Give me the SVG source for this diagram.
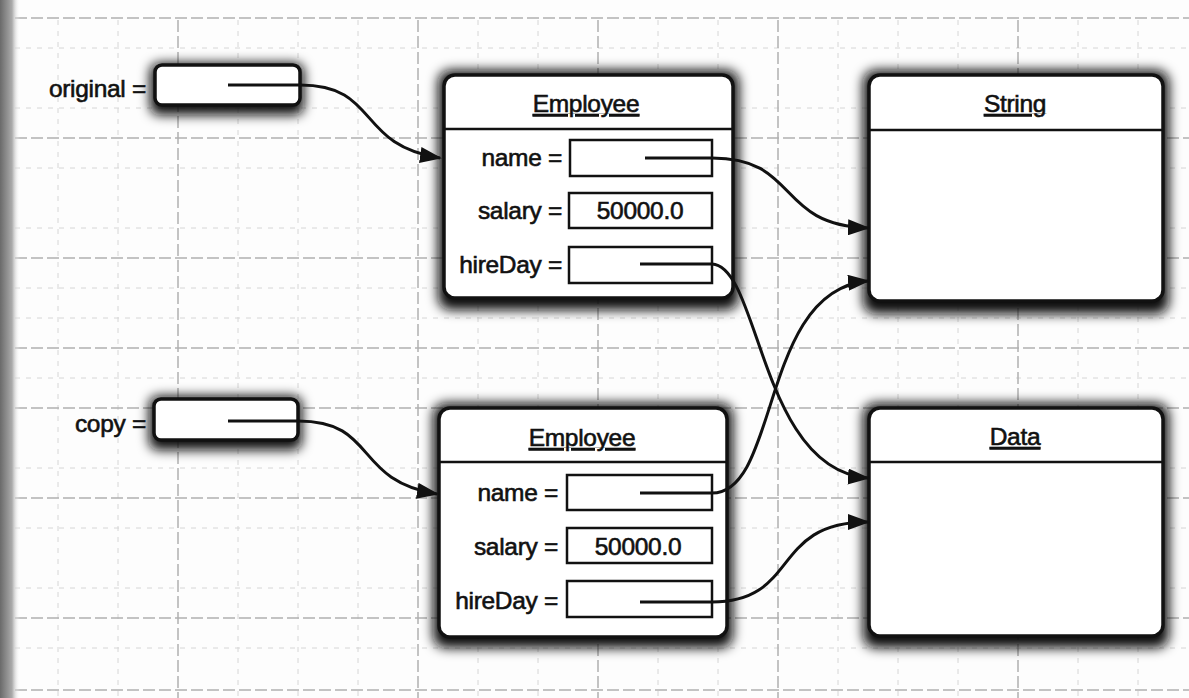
<svg xmlns="http://www.w3.org/2000/svg" width="1189" height="698" viewBox="0 0 1189 698">
<defs>
<style>
text{font-family:"Liberation Sans",Arial,sans-serif;font-size:24.5px;letter-spacing:-0.3px;fill:#111;stroke:#111;stroke-width:0.6;}
.lbl{text-anchor:end;}
.ttl{text-anchor:middle;text-decoration:underline;}
.val{text-anchor:middle;}
.box{fill:#fff;stroke:#111;stroke-width:3.5;}
.fld{fill:#fff;stroke:#111;stroke-width:2.5;}
.sep{stroke:#111;stroke-width:2.5;}
.shadow{fill:#111;filter:url(#blur);}
.conn{fill:none;stroke:#111;stroke-width:3;marker-end:url(#arr);}
.gmin{stroke:#d6d6d6;stroke-width:1;stroke-dasharray:5 6;}
.gmaj{stroke:#b0b0b0;stroke-width:1.5;stroke-dasharray:12 4;}
</style>
<filter id="blur" x="-20%" y="-30%" width="140%" height="160%"><feGaussianBlur stdDeviation="6"/></filter>
<linearGradient id="spine" x1="0" x2="1" y1="0" y2="0"><stop offset="0" stop-color="#6a6a6a"/><stop offset="0.6" stop-color="#aaa"/><stop offset="1" stop-color="#fff" stop-opacity="0"/></linearGradient>
<marker id="arr" markerWidth="22" markerHeight="16" refX="20" refY="8" orient="auto" markerUnits="userSpaceOnUse"><path d="M0,0 L22,8 L0,16 Z" fill="#111"/></marker>
</defs>
<rect width="1189" height="698" fill="#fdfdfd"/>
<g id="grid">
<path class="gmin" d="M58,20V698M118,20V698M238,20V698M298,20V698M358,20V698M478,20V698M538,20V698M658,20V698M718,20V698M838,20V698M898,20V698M958,20V698M1078,20V698M1138,20V698"/>
<path class="gmin" d="M15,48H1189M15,108H1189M15,168H1189M15,228H1189M15,288H1189M15,318H1189M15,378H1189M15,468H1189M15,528H1189M15,588H1189M15,648H1189"/>
<path class="gmaj" d="M178,20V698M418,20V698M598,20V698M778,20V698M1018,20V698"/>
<path class="gmaj" d="M15,18H1189M15,138H1189M15,258H1189M15,348H1189M15,408H1189M15,498H1189M15,618H1189M15,690H1189"/>
</g>
<rect x="0" y="0" width="20" height="698" fill="url(#spine)"/>
<g id="original">
<rect class="shadow" x="150" y="63" width="154" height="52" rx="9"/>
<rect class="box" x="155" y="65" width="145" height="40" rx="7"/>
<text class="lbl" x="146" y="97">original =</text>
</g>
<g id="copy">
<rect class="shadow" x="149" y="396" width="153" height="54" rx="9"/>
<rect class="box" x="154" y="399" width="144" height="41" rx="7"/>
<text class="lbl" x="146" y="432">copy =</text>
</g>
<g id="employee1">
<rect class="shadow" x="438" y="70" width="301" height="240" rx="13"/>
<rect class="box" x="444" y="75" width="289" height="223" rx="11"/>
<line class="sep" x1="444" y1="129" x2="733" y2="129"/>
<text class="ttl" x="586" y="112">Employee</text>
<text class="lbl" x="562" y="166">name =</text>
<rect class="fld" x="570" y="140" width="142" height="36"/>
<text class="lbl" x="562" y="219">salary =</text>
<rect class="fld" x="569" y="193" width="143" height="35"/>
<text class="val" x="640" y="219">50000.0</text>
<text class="lbl" x="562" y="273">hireDay =</text>
<rect class="fld" x="569" y="247" width="143" height="36"/>
</g>
<g id="employee2">
<rect class="shadow" x="433" y="403" width="300" height="245" rx="13"/>
<rect class="box" x="439" y="408" width="288" height="229" rx="11"/>
<line class="sep" x1="439" y1="462" x2="727" y2="462"/>
<text class="ttl" x="582" y="446">Employee</text>
<text class="lbl" x="558" y="501">name =</text>
<rect class="fld" x="567" y="475" width="145" height="35"/>
<text class="lbl" x="558" y="555">salary =</text>
<rect class="fld" x="567" y="528" width="145" height="35"/>
<text class="val" x="638" y="555">50000.0</text>
<text class="lbl" x="558" y="609">hireDay =</text>
<rect class="fld" x="567" y="581" width="145" height="36"/>
</g>
<g id="string">
<rect class="shadow" x="863" y="70" width="306" height="244" rx="13"/>
<rect class="box" x="869" y="75" width="294" height="226" rx="11"/>
<line class="sep" x1="869" y1="130" x2="1163" y2="130"/>
<text class="ttl" x="1015" y="112">String</text>
</g>
<g id="data">
<rect class="shadow" x="863" y="403" width="306" height="245" rx="13"/>
<rect class="box" x="869" y="408" width="294" height="228" rx="11"/>
<line class="sep" x1="869" y1="462" x2="1163" y2="462"/>
<text class="ttl" x="1015" y="445">Data</text>
</g>
<g id="connectors">
<path class="conn" d="M228,85 H300 C380,85 355,145 440,158"/>
<path class="conn" d="M228,421 H298 C378,421 352,480 437,494"/>
<path class="conn" d="M645,158 H712 C800,158 775,225 868,228"/>
<path class="conn" d="M640,264 H712 C760,266 760,470 868,478"/>
<path class="conn" d="M640,493 H712 C780,493 760,290 868,281"/>
<path class="conn" d="M640,602 H712 C800,602 770,522 868,522"/>
</g>
</svg>
